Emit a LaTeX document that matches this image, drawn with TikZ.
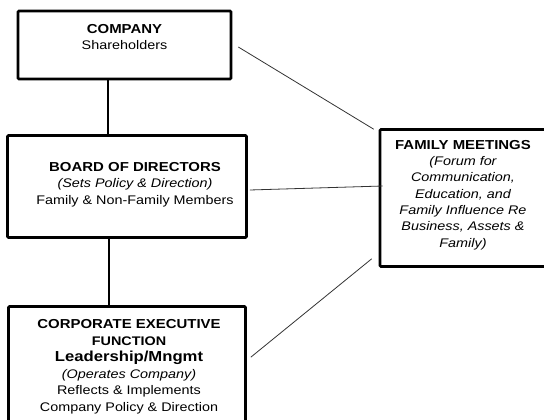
\documentclass[tikz,border=0pt]{standalone}
\usepackage{fontspec}
\setmainfont{Liberation Sans}[FakeStretch=1.15]
\begin{document}
\begin{tikzpicture}[x=1pt,y=-1pt,
    box/.style={draw,line width=2.6pt,rounded corners=1pt,inner sep=0pt},
    stem/.style={line width=1.6pt},
    link/.style={line width=0.8pt,black!80},
    boxtext/.style={align=center,inner sep=0pt,anchor=base,
      font=\fontsize{12.5}{16.5}\selectfont}]
    \useasboundingbox (0,0) rectangle (544,420);

    % Draw the boxes
    \node[box,minimum width=213,minimum height=68] (company) at (124.5,45) {};
    \node[box,minimum width=239,minimum height=102] (board) at (127,186.5) {};
    \node[box,minimum width=237,minimum height=122] (ceo) at (127,367.5) {};
    \node[box,minimum width=166,minimum height=137] (family) at (463,198) {};

    % Box texts (placed at the baseline of their last line)
    \node[boxtext] (companytxt) at (124.5,50)
        {\fontsize{13}{17}\selectfont\bfseries COMPANY\\
         \fontsize{12.5}{17}\selectfont\mdseries Shareholders};
    \node[boxtext] (boardtxt) at (135,204)
        {\fontsize{13}{16}\selectfont\bfseries BOARD OF DIRECTORS\\
         \fontsize{12.5}{15}\selectfont\itshape (Sets Policy \& Direction)\\
         Family \& Non-Family Members};
    \node[boxtext] (ceotxt) at (129,411)
        {\fontsize{13}{17}\selectfont\bfseries CORPORATE EXECUTIVE\\
         \bfseries FUNCTION\\
         \fontsize{14.5}{18}\selectfont\bfseries Leadership/Mngmt\\
         \fontsize{12.5}{16.5}\selectfont\itshape (Operates Company)\\
         Reflects \& Implements\\
         Company Policy \& Direction};
    \node[boxtext,font=\fontsize{12.5}{16.3}\selectfont\itshape] (familytxt) at (463,247)
        {\fontsize{13}{16.3}\selectfont\upshape\bfseries FAMILY MEETINGS\\
         (Forum for\\Communication,\\Education, and\\
         Family Influence Re\\Business, Assets \&\\Family)};

    % Vertical links
    \draw[stem] (company.south -| 108,0) -- (board.north -| 108,0);
    \draw[stem] (board.south -| 109,0) -- (ceo.north -| 109,0);

    % Links to the family meetings
    \draw[link] ([shift={(6,2)}]company.east) -- ([shift={(-5,1)}]family.north west);
    \draw[link] ([shift={(2,3.5)}]board.east) -- ([shift={(4,-12)}]family.west);
    \draw[link] ([shift={(4,52)}]ceo.north east) -- ([shift={(-7,-9)}]family.south west);

\end{tikzpicture}
\end{document}
